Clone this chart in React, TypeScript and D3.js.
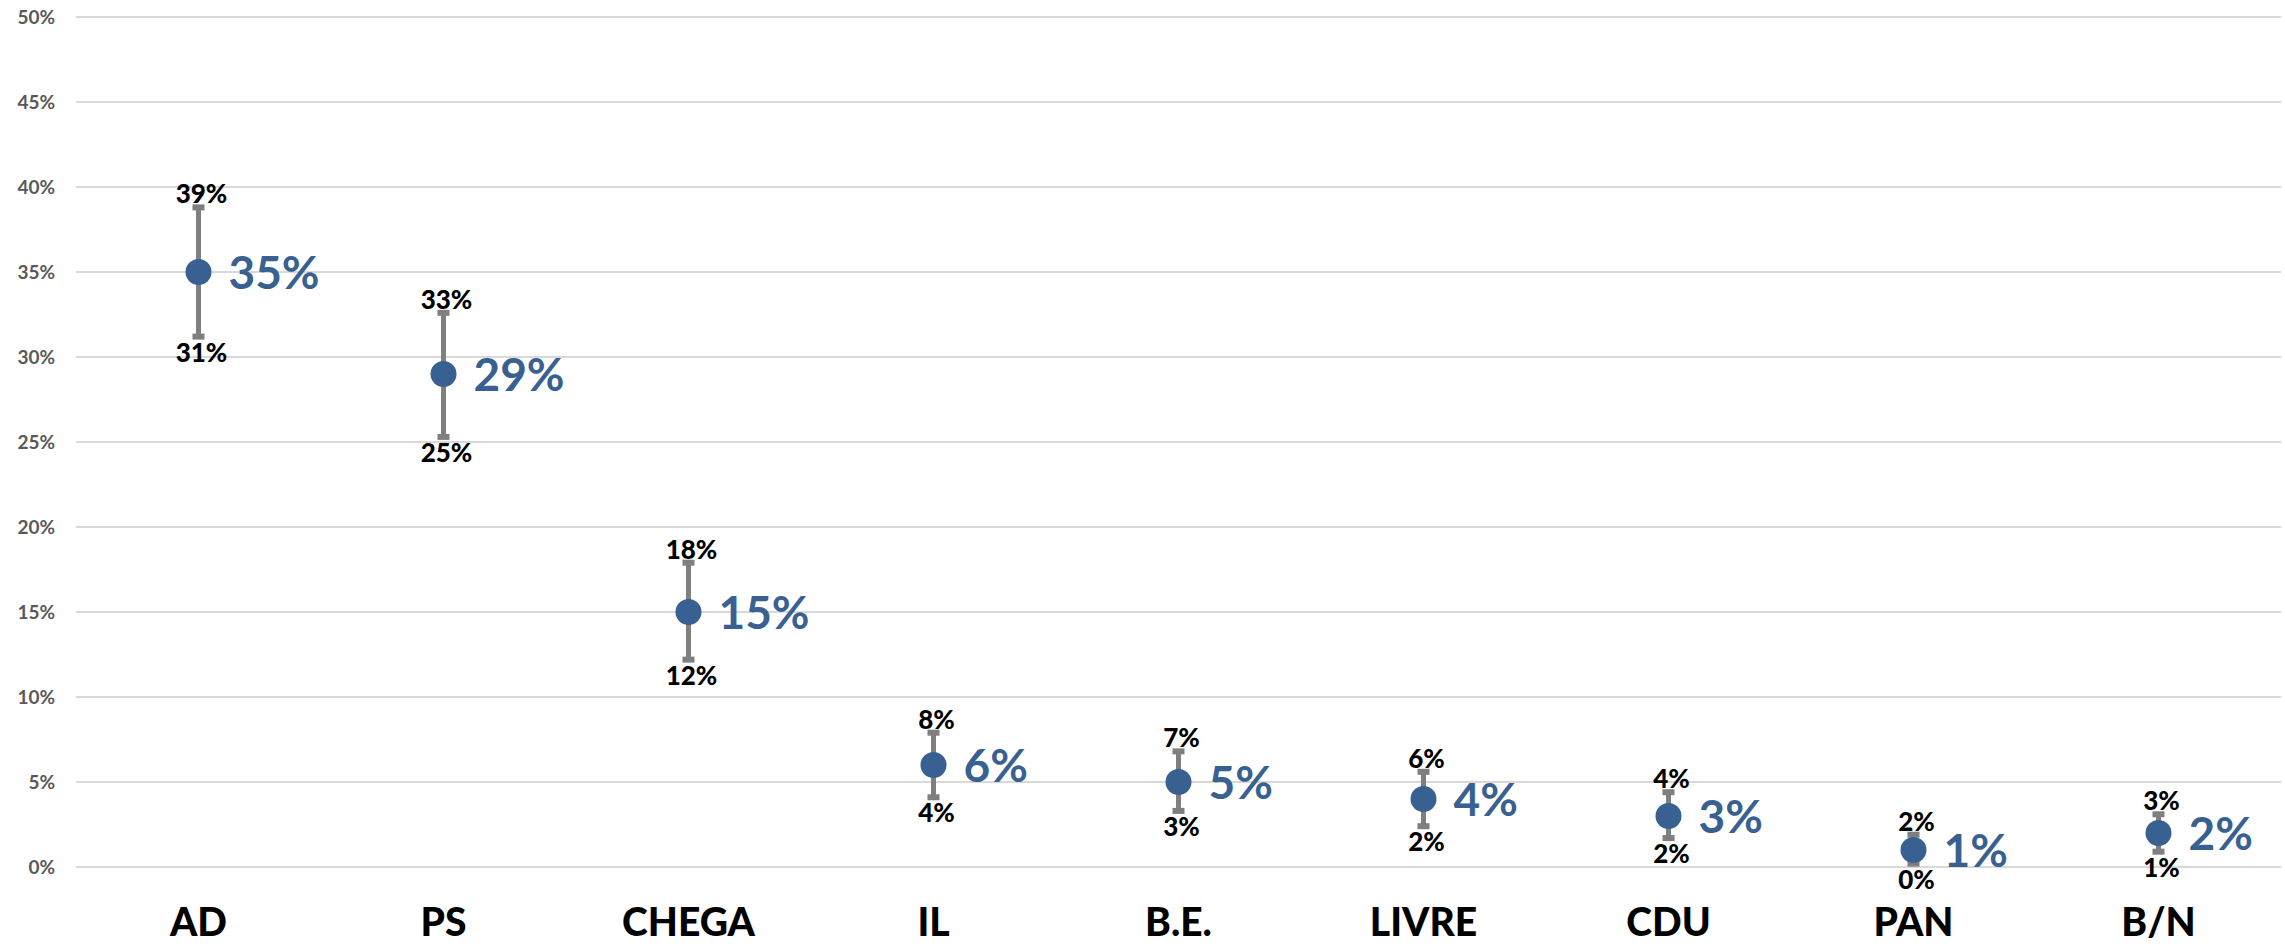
import * as d3 from 'd3'

const parties = ['AD', 'PS', 'CHEGA', 'IL', 'B.E.', 'LIVRE', 'CDU', 'PAN', 'B/N']
const estimates = [35, 29, 15, 6, 5, 4, 3, 1, 2]
const lowBounds = [31.2, 25.3, 12.2, 4.1, 3.3, 2.4, 1.7, 0.2, 0.9]
const highBounds = [38.8, 32.6, 17.9, 7.9, 6.8, 5.6, 4.4, 1.9, 3.1]
const yTicks = [0, 5, 10, 15, 20, 25, 30, 35, 40, 45, 50]

const W = 2285
const H = 949
const margin = { top: 17, right: 4, bottom: 82, left: 76 }
const font = 'Lato, Calibri, sans-serif'
const pct = (v: number) => `${Math.round(v)}%`

export default function App() {
  const x = d3.scaleBand<string>()
    .domain(parties)
    .range([margin.left, W - margin.right])

  const y = d3.scaleLinear()
    .domain([0, 50])
    .range([H - margin.bottom, margin.top])

  const cx = (p: string) => (x(p) || 0) + x.bandwidth() / 2

  return (
    <div style={{ position: 'absolute', left: 0, top: 0, background: '#fff' }}>
      <svg width={W} height={H} style={{ display: 'block' }}>
        {/* gridlines + y labels */}
        {yTicks.map(t => (
          <g key={t}>
            <line x1={margin.left} x2={W - margin.right} y1={y(t)} y2={y(t)}
              stroke="#d9d9d9" strokeWidth={2} />
            <text x={55} y={y(t)} dy="0.35em" textAnchor="end"
              style={{ font: `bold 19px ${font}`, fill: '#595959' }}>{t}%</text>
          </g>
        ))}

        {/* category labels */}
        {parties.map(p => (
          <text key={p} x={cx(p)} y={936} textAnchor="middle"
            style={{ font: `900 39px ${font}`, fill: '#000' }}>{p}</text>
        ))}

        {/* error bars, points, labels */}
        {parties.map((p, i) => {
          const px = cx(p)
          const yl = y(lowBounds[i])
          const yh = y(highBounds[i])
          return (
            <g key={p}>
              <line x1={px} x2={px} y1={yh} y2={yl} stroke="#7f7f7f" strokeWidth={5} />
              <rect x={px - 6} y={yh - 3} width={12} height={6} fill="#7f7f7f" />
              <rect x={px - 6} y={yl - 3} width={12} height={6} fill="#7f7f7f" />
              <circle cx={px} cy={y(estimates[i])} r={13} fill="#386192" />
              <text x={px + 30} y={y(estimates[i])} dy="0.36em"
                style={{ font: `bold 46px ${font}`, fill: '#386192' }}>{pct(estimates[i])}</text>
              <text x={px + 3} y={yh - 4} textAnchor="middle"
                style={{ font: `900 26px ${font}`, fill: '#000' }}>{pct(highBounds[i])}</text>
              <text x={px + 3} y={yl + 25} textAnchor="middle"
                style={{ font: `900 26px ${font}`, fill: '#000' }}>{pct(lowBounds[i])}</text>
            </g>
          )
        })}
      </svg>
    </div>
  )
}
